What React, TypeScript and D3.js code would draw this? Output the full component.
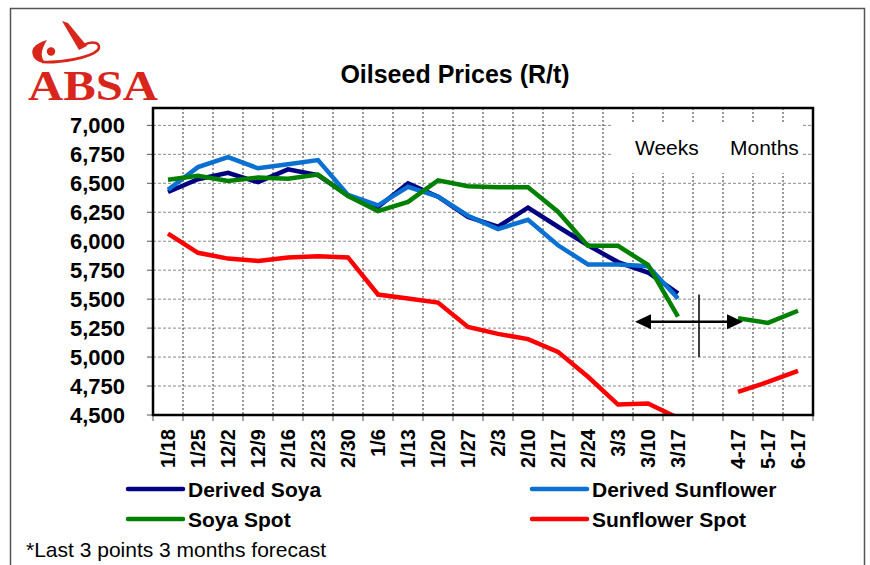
import React, { useEffect, useRef } from 'react';
import * as d3 from 'd3';

// weekly dates, a blank gap, then 3 monthly forecast points
const categories = [
  '1/18', '1/25', '12/2', '12/9', '2/16', '2/23', '2/30', '1/6', '1/13', '1/20', '1/27',
  '2/3', '2/10', '2/17', '2/24', '3/3', '3/10', '3/17', '', '4-17', '5-17', '6-17',
];

const derivedSoya = [
  6425, 6535, 6590, 6510, 6620, 6570, 6395, 6295, 6500, 6385, 6210,
  6125, 6290, 6125, 5965, 5820, 5730, 5550, null, null, null, null,
];
const derivedSunflower = [
  6445, 6640, 6725, 6630, 6665, 6700, 6400, 6310, 6470, 6385, 6220,
  6105, 6185, 5965, 5800, 5800, 5785, 5505, null, null, null, null,
];
const soyaSpot = [
  6530, 6565, 6520, 6550, 6540, 6575, 6390, 6260, 6340, 6525, 6475,
  6465, 6465, 6255, 5960, 5960, 5795, 5350, null, 5335, 5295, 5400,
];
const sunflowerSpot = [
  6065, 5900, 5850, 5830, 5860, 5870, 5860, 5540, 5505, 5470, 5260,
  5200, 5155, 5045, 4830, 4590, 4600, 4475, null, 4700, 4785, 4880,
];

const yTicks = [4500, 4750, 5000, 5250, 5500, 5750, 6000, 6250, 6500, 6750, 7000];

const seriesList = [
  { name: 'Derived Soya', values: derivedSoya, color: '#000080' },
  { name: 'Derived Sunflower', values: derivedSunflower, color: '#0a70d2' },
  { name: 'Soya Spot', values: soyaSpot, color: '#008000' },
  { name: 'Sunflower Spot', values: sunflowerSpot, color: '#ff0000' },
];

const FONT = "'Liberation Sans', Arial, sans-serif";

const OilseedChart = () => {
  const ref = useRef<SVGSVGElement>(null);

  useEffect(() => {
    const svg = d3.select(ref.current);
    svg.selectAll('*').remove();

    // plot area
    const left = 153, right = 813, top = 108, bottom = 415;

    const xScale = d3
      .scaleBand<number>()
      .domain(categories.map((_, i) => i))
      .range([left, right])
      .padding(0);
    const xc = (i: number) => (xScale(i) as number) + xScale.bandwidth() / 2;
    const yScale = d3.scaleLinear().domain([4500, 7150]).range([bottom, top]);

    // outer border
    svg
      .append('rect')
      .attr('x', 10.5)
      .attr('y', 8.5)
      .attr('width', 854)
      .attr('height', 580)
      .attr('fill', 'white')
      .attr('stroke', '#555')
      .attr('stroke-width', 1.5);

    // logo
    const logo = svg.append('g').attr('fill', '#d9261c').attr('stroke', '#d9261c');
    logo.append('circle').attr('cx', 51).attr('cy', 51.5).attr('r', 4.2).attr('stroke', 'none');
    logo
      .append('path')
      .attr('d', 'M 47 40 Q 27 46 34 58 Q 38 63 46 63 Q 37 56 47 40 Z')
      .attr('stroke', 'none');
    logo
      .append('path')
      .attr('d', 'M 62 21 L 68 23 L 87 46 L 79 50 Z')
      .attr('stroke', 'none');
    logo
      .append('path')
      .attr('d', 'M 42 62 C 60 63 90 58 98 50 C 102 43 93 40 84 45')
      .attr('fill', 'none')
      .attr('stroke-width', 2.6);
    logo
      .append('text')
      .attr('x', 28)
      .attr('y', 100)
      .attr('textLength', 130)
      .attr('lengthAdjust', 'spacingAndGlyphs')
      .attr('font-family', "'Liberation Serif', 'Times New Roman', serif")
      .attr('font-weight', 'bold')
      .attr('font-size', 42)
      .attr('stroke', 'none')
      .text('ABSA');

    // title
    svg
      .append('text')
      .attr('x', 455)
      .attr('y', 83)
      .attr('text-anchor', 'middle')
      .attr('font-family', FONT)
      .attr('font-weight', 'bold')
      .attr('font-size', 25)
      .text('Oilseed Prices (R/t)');

    // horizontal gridlines
    svg
      .append('g')
      .selectAll('line')
      .data(yTicks)
      .join('line')
      .attr('x1', left)
      .attr('x2', right)
      .attr('y1', (d) => yScale(d))
      .attr('y2', (d) => yScale(d))
      .attr('stroke', '#8a8a8a')
      .attr('stroke-width', 1)
      .attr('stroke-dasharray', '3,2');

    // vertical gridlines at category boundaries
    const bounds = d3.range(1, categories.length);
    svg
      .append('g')
      .selectAll('line')
      .data(bounds)
      .join('line')
      .attr('x1', (i) => xScale(i) as number)
      .attr('x2', (i) => xScale(i) as number)
      .attr('y1', top)
      .attr('y2', bottom)
      .attr('stroke', '#333')
      .attr('stroke-width', 1)
      .attr('stroke-dasharray', '2,2');

    // weeks / months label box
    svg
      .append('rect')
      .attr('x', 612)
      .attr('y', 124)
      .attr('width', 191)
      .attr('height', 49)
      .attr('fill', 'white');
    svg
      .append('text')
      .attr('x', 635)
      .attr('y', 155)
      .attr('font-family', FONT)
      .attr('font-size', 21)
      .text('Weeks');
    svg
      .append('text')
      .attr('x', 730)
      .attr('y', 155)
      .attr('font-family', FONT)
      .attr('font-size', 21)
      .text('Months');

    // y axis ticks + labels
    svg
      .append('g')
      .selectAll('line')
      .data(yTicks)
      .join('line')
      .attr('x1', left - 6)
      .attr('x2', left)
      .attr('y1', (d) => yScale(d))
      .attr('y2', (d) => yScale(d))
      .attr('stroke', '#555');
    svg
      .append('g')
      .selectAll('text')
      .data(yTicks)
      .join('text')
      .attr('x', 125)
      .attr('y', (d) => yScale(d))
      .attr('dy', '0.36em')
      .attr('text-anchor', 'end')
      .attr('font-family', FONT)
      .attr('font-weight', 'bold')
      .attr('font-size', 22)
      .text((d) => d3.format(',')(d));

    // x axis ticks + labels
    svg
      .append('g')
      .selectAll('line')
      .data(d3.range(0, categories.length + 1))
      .join('line')
      .attr('x1', (i) => left + i * xScale.bandwidth())
      .attr('x2', (i) => left + i * xScale.bandwidth())
      .attr('y1', bottom)
      .attr('y2', bottom + 6)
      .attr('stroke', '#555');
    svg
      .append('g')
      .selectAll('text')
      .data(categories)
      .join('text')
      .attr('transform', (_, i) => 'translate(' + xc(i) + ',' + 429 + ') rotate(-90)')
      .attr('dy', '0.36em')
      .attr('text-anchor', 'end')
      .attr('font-family', FONT)
      .attr('font-weight', 'bold')
      .attr('font-size', 20)
      .text((d) => d);

    // lines
    svg
      .append('clipPath')
      .attr('id', 'plotclip')
      .append('rect')
      .attr('x', left)
      .attr('y', top)
      .attr('width', right - left)
      .attr('height', bottom - top);

    const valueline = d3
      .line<number | null>()
      .defined((d) => d != null)
      .x((_, i) => xc(i))
      .y((d) => yScale(d as number));

    svg
      .append('g')
      .attr('clip-path', 'url(#plotclip)')
      .selectAll('path')
      .data(seriesList)
      .join('path')
      .attr('d', (s) => valueline(s.values))
      .attr('fill', 'none')
      .attr('stroke', (s) => s.color)
      .attr('stroke-width', 4.5)
      .attr('stroke-linejoin', 'miter');

    // weeks/months divider arrow
    const ay = yScale(5305);
    const ax1 = xc(16) - 13;
    const ax2 = xc(19) + 5;
    const vx = xc(18) - 9;
    svg
      .append('line')
      .attr('x1', ax1 + 10)
      .attr('x2', ax2 - 10)
      .attr('y1', ay)
      .attr('y2', ay)
      .attr('stroke', 'black')
      .attr('stroke-width', 2.5);
    svg
      .append('polygon')
      .attr('points', [[ax1, ay], [ax1 + 16, ay - 7.5], [ax1 + 16, ay + 7.5]].join(' '))
      .attr('fill', 'black');
    svg
      .append('polygon')
      .attr('points', [[ax2, ay], [ax2 - 16, ay - 7.5], [ax2 - 16, ay + 7.5]].join(' '))
      .attr('fill', 'black');
    svg
      .append('line')
      .attr('x1', vx)
      .attr('x2', vx)
      .attr('y1', yScale(5540))
      .attr('y2', yScale(5000))
      .attr('stroke', 'black')
      .attr('stroke-width', 1.5);

    // plot frame
    svg
      .append('rect')
      .attr('x', left)
      .attr('y', top)
      .attr('width', right - left)
      .attr('height', bottom - top)
      .attr('fill', 'none')
      .attr('stroke', 'black')
      .attr('stroke-width', 2.5);

    // legend
    const legendPos = [
      { x: 128, y: 489 },
      { x: 532, y: 489 },
      { x: 128, y: 519 },
      { x: 532, y: 519 },
    ];
    const legend = svg
      .append('g')
      .selectAll('g')
      .data(seriesList)
      .join('g')
      .attr('transform', (_, i) => 'translate(' + legendPos[i].x + ',' + legendPos[i].y + ')');
    legend
      .append('line')
      .attr('x1', 0)
      .attr('x2', 55)
      .attr('stroke', (s) => s.color)
      .attr('stroke-width', 4.5)
      .attr('stroke-linecap', 'round');
    legend
      .append('text')
      .attr('x', 60)
      .attr('dy', '0.36em')
      .attr('font-family', FONT)
      .attr('font-weight', 'bold')
      .attr('font-size', 21)
      .text((s) => s.name);

    // footnote
    svg
      .append('text')
      .attr('x', 26)
      .attr('y', 557)
      .attr('font-family', FONT)
      .attr('font-size', 21)
      .text('*Last 3 points 3 months forecast');
  }, []);

  return (
    <svg
      ref={ref}
      width={870}
      height={565}
      style={{ position: 'absolute', left: 0, top: 0, background: 'white' }}
    ></svg>
  );
};

export default function App() {
  return <OilseedChart />;
}
